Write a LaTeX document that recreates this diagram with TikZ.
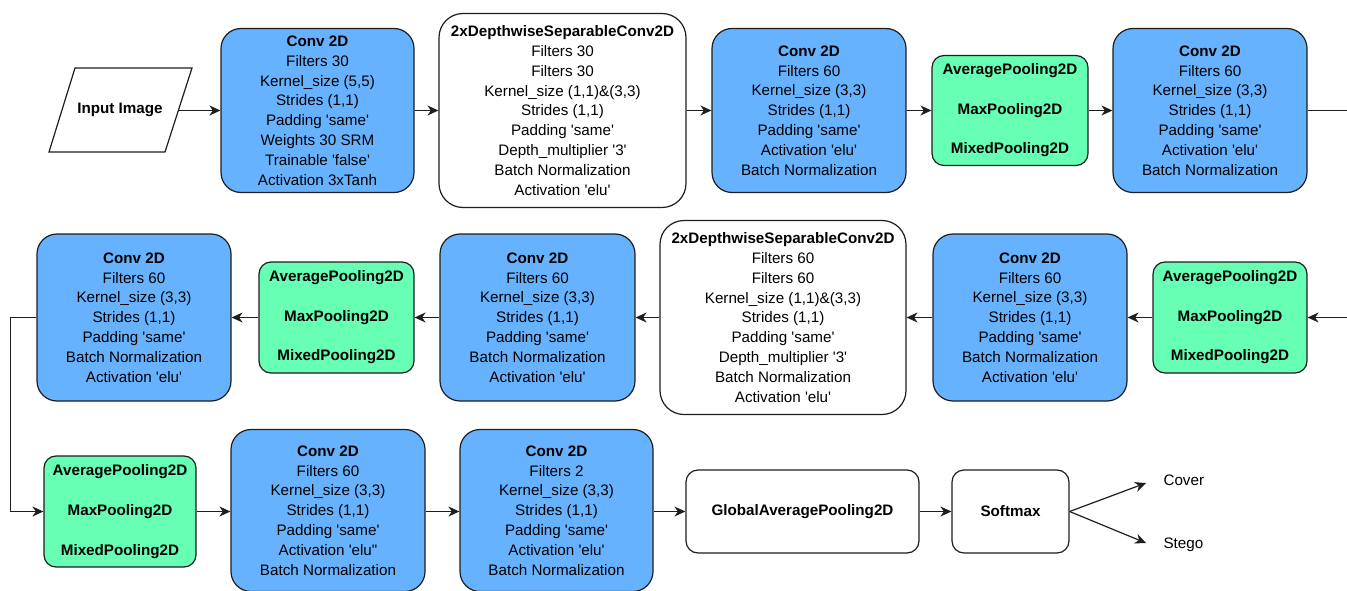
\documentclass[tikz,border=0pt]{standalone}
\usepackage{fontspec}
\setmainfont{Liberation Sans}
\usetikzlibrary{arrows.meta}
\definecolor{convblue}{RGB}{102,178,255}
\definecolor{poolgreen}{RGB}{102,255,179}
\definecolor{edge}{RGB}{30,30,30}
\newcommand\sq{\textquotesingle}
\newcommand\lblfont{\fontsize{15.2pt}{19.8pt}\selectfont}
\tikzset{
  box/.style={draw=edge, line width=1.2pt, align=center, inner sep=0pt, font=\lblfont},
  convbox/.style={box, fill=convblue, rounded corners=20pt},
  sepbox/.style={box, fill=white, rounded corners=24pt},
  poolbox/.style={box, fill=poolgreen, rounded corners=12pt},
  plainbox/.style={box, fill=white, rounded corners=12pt},
  flow/.style={draw=edge, line width=1.2pt, -{Stealth[length=11pt,width=10pt,inset=3.5pt]}},
  link/.style={draw=edge, line width=1.2pt},
  sz/.style 2 args={minimum width=#1pt, minimum height=#2pt}
}
\begin{document}
\begin{tikzpicture}[x=1pt,y=-1pt]
\useasboundingbox[fill=white] (0,0) rectangle (1347,591);

% ---- first row ----
\draw[draw=edge, line width=1.2pt, fill=white] (75,68) -- (192,68) -- (165,152) -- (49,152) -- cycle;
\node[font=\lblfont\bfseries] (in) at (120,110) {Input Image};
\coordinate (ine) at (178.5,110.5);

\node[convbox, sz={193}{164}] (c1) at (317.5,110.5)
 {\textbf{Conv 2D}\\Filters 30\\Kernel\_size (5,5)\\Strides (1,1)\\Padding \sq same\sq\\Weights 30 SRM\\Trainable \sq false\sq\\Activation 3xTanh};
\node[sepbox, sz={247}{194}] (d1) at (562.5,110.5)
 {\textbf{2xDepthwiseSeparableConv2D}\\Filters 30\\Filters 30\\Kernel\_size (1,1)\&(3,3)\\Strides (1,1)\\Padding \sq same\sq\\Depth\_multiplier \sq 3\sq\\Batch Normalization\\Activation \sq elu\sq};
\node[convbox, sz={194}{164}] (c3) at (809,110.5)
 {\textbf{Conv 2D}\\Filters 60\\Kernel\_size (3,3)\\Strides (1,1)\\Padding \sq same\sq\\Activation \sq elu\sq\\Batch Normalization};
\node[poolbox, sz={156}{110}, font=\lblfont\bfseries] (g1) at (1010,110.5)
 {AveragePooling2D\\[19.8pt]MaxPooling2D\\[19.8pt]MixedPooling2D};
\node[convbox, sz={194}{164}] (c5) at (1210,110.5)
 {\textbf{Conv 2D}\\Filters 60\\Kernel\_size (3,3)\\Strides (1,1)\\Padding \sq same\sq\\Activation \sq elu\sq\\Batch Normalization};
\coordinate (r1) at (1347,110.5);

% ---- second row (right to left) ----
\coordinate (r2) at (1347,317.5);
\node[poolbox, sz={154}{111}, font=\lblfont\bfseries] (g3) at (1230,317.5)
 {AveragePooling2D\\[19.8pt]MaxPooling2D\\[19.8pt]MixedPooling2D};
\node[convbox, sz={194}{167}] (c6) at (1030,317.5)
 {\textbf{Conv 2D}\\Filters 60\\Kernel\_size (3,3)\\Strides (1,1)\\Padding \sq same\sq\\Batch Normalization\\Activation \sq elu\sq};
\node[sepbox, sz={246}{194}] (d2) at (783,317.5)
 {\textbf{2xDepthwiseSeparableConv2D}\\Filters 60\\Filters 60\\Kernel\_size (1,1)\&(3,3)\\Strides (1,1)\\Padding \sq same\sq\\Depth\_multiplier \sq 3\sq\\Batch Normalization\\Activation \sq elu\sq};
\node[convbox, sz={195}{167}] (c7) at (537.5,317.5)
 {\textbf{Conv 2D}\\Filters 60\\Kernel\_size (3,3)\\Strides (1,1)\\Padding \sq same\sq\\Batch Normalization\\Activation \sq elu\sq};
\node[poolbox, sz={155}{111}, font=\lblfont\bfseries] (g2) at (336.5,317.5)
 {AveragePooling2D\\[19.8pt]MaxPooling2D\\[19.8pt]MixedPooling2D};
\node[convbox, sz={194}{167}] (c8) at (134,317.5)
 {\textbf{Conv 2D}\\Filters 60\\Kernel\_size (3,3)\\Strides (1,1)\\Padding \sq same\sq\\Batch Normalization\\Activation \sq elu\sq};
\coordinate (lk) at (10.5,317.5);

% ---- third row ----
\node[poolbox, sz={152}{111}, font=\lblfont\bfseries] (g4) at (120,511.5)
 {AveragePooling2D\\[19.8pt]MaxPooling2D\\[19.8pt]MixedPooling2D};
\node[convbox, sz={194}{162}] (c9) at (328,510.5)
 {\textbf{Conv 2D}\\Filters 60\\Kernel\_size (3,3)\\Strides (1,1)\\Padding \sq same\sq\\Activation \sq elu\textquotedbl\\Batch Normalization};
\node[convbox, sz={193}{162}] (c10) at (556.5,510.5)
 {\textbf{Conv 2D}\\Filters 2\\Kernel\_size (3,3)\\Strides (1,1)\\Padding \sq same\sq\\Activation \sq elu\sq\\Batch Normalization};
\node[plainbox, sz={233}{83}, font=\lblfont\bfseries] (gap) at (802.5,511.5) {GlobalAveragePooling2D};
\node[plainbox, sz={117}{83}, font=\lblfont\bfseries] (sm) at (1010.5,511.5) {Softmax};
\coordinate (cv) at (1146,483);
\coordinate (st) at (1146,543);
\node[font=\lblfont, anchor=west] (cover) at (1160,480) {Cover};
\node[font=\lblfont, anchor=west] (stego) at (1160,545) {Stego};

% ---- connectors ----
\draw[flow] (ine) -- (c1.west);
\draw[flow] (c1) -- (d1);
\draw[flow] (d1) -- (c3);
\draw[flow] (c3) -- (g1);
\draw[flow] (g1) -- (c5);
\draw[link] (c5.east) -- (r1);

\draw[flow] (r2) -- (g3.east);
\draw[flow] (g3) -- (c6);
\draw[flow] (c6) -- (d2);
\draw[flow] (d2) -- (c7);
\draw[flow] (c7) -- (g2);
\draw[flow] (g2) -- (c8);
\draw[flow] (c8.west) -- (lk) |- (g4.west);

\draw[flow] (g4.east) -- (g4.east -| c9.west);
\draw[flow] (g4.east -| c9.east) -- (g4.east -| c10.west);
\draw[flow] (g4.east -| c10.east) -- (gap.west);
\draw[flow] (gap) -- (sm);
\draw[flow] (sm.east) -- (cv);
\draw[flow] (sm.east) -- (st);
\end{tikzpicture}
\end{document}
